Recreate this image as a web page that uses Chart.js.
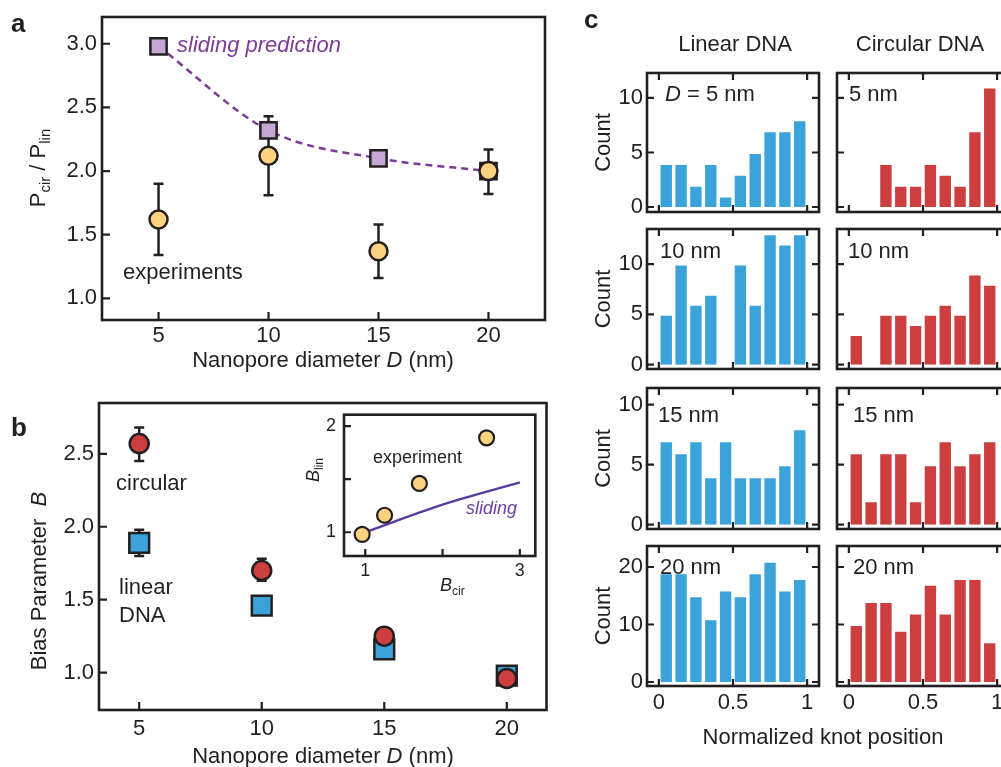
<!DOCTYPE html>
<html><head><meta charset="utf-8">
<script src="https://cdn.jsdelivr.net/npm/chart.js@4.4.1/dist/chart.umd.min.js"></script>
<style>
html,body{margin:0;padding:0;background:#fff;overflow:hidden;width:1001px;height:767px;position:relative;}
.box{position:absolute;}
canvas{display:block;}
</style></head><body>
<script>
// ---------------- data ----------------
const diameters = [5, 10, 15, 20];
// panel a
const slidingRatio = [2.98, 2.32, 2.10, 2.00];
const expRatio = [1.62, 2.12, 1.37, 2.00];
const expRatioLow = [1.34, 1.81, 1.16, 1.82];
const expRatioHigh = [1.90, 2.43, 1.58, 2.17];
// panel b
const biasCircular = [2.57, 1.70, 1.25, 0.96];
const biasCircularLow = [2.45, 1.63, null, null];
const biasCircularHigh = [2.68, 1.78, null, null];
const biasLinear = [1.89, 1.46, 1.16, 0.98];
const biasLinearLow = [1.80, null, null, null];
const biasLinearHigh = [1.98, null, null, null];
// inset
const slidingBcir = [1, 2, 3];
const slidingBlin = [1.00, 1.26, 1.47];
// panel c
const knotBins = [0.05, 0.15, 0.25, 0.35, 0.45, 0.55, 0.65, 0.75, 0.85, 0.95];
const linear5 = [4, 4, 2, 4, 1, 3, 5, 7, 7, 8];
const circular5 = [0, 0, 4, 2, 2, 4, 3, 2, 7, 11];
const linear10 = [5, 10, 6, 7, 0, 10, 6, 13, 12, 13];
const circular10 = [3, 0, 5, 5, 4, 5, 6, 5, 9, 8];
const linear15 = [7, 6, 7, 4, 7, 4, 4, 4, 5, 8];
const circular15 = [6, 2, 6, 6, 2, 5, 7, 5, 6, 7];
const linear20 = [19, 19, 15, 11, 16, 15, 19, 21, 16, 18];
const circular20 = [10, 14, 14, 9, 12, 17, 12, 18, 18, 7];
const rowLabels = ['5 nm', '10 nm', '15 nm', '20 nm'];

// ---------------- style ----------------
const FONT = '"Liberation Sans", Arial, Helvetica, sans-serif';
const DARK = '#231f20';
const YELLOW = '#fed27f';
const LAV = '#c4a6d5';
const PURPLE = '#7c3b97';
const INSET_PURPLE = '#5b3c9e';
const RED = '#cc3f3e';
const BLUE = '#3aa3da';
Chart.defaults.font.family = FONT;
Chart.defaults.color = DARK;
Chart.defaults.animation = false;

function fontOf(p){ return (p.italic?'italic ':'') + (p.bold?'bold ':'') + (p.size||22) + 'px ' + FONT; }
function richText(ctx, n){
  ctx.save();
  ctx.translate(n.x, n.y);
  if (n.rotate) ctx.rotate(n.rotate);
  ctx.textBaseline = 'alphabetic';
  ctx.textAlign = 'left';
  let w = 0; const ws = [];
  for (const p of n.parts){ ctx.font = fontOf(p); const m = ctx.measureText(p.t).width; ws.push(m); w += m; }
  let cx = n.align === 'center' ? -w/2 : 0;
  n.parts.forEach((p,i)=>{ ctx.font = fontOf(p); ctx.fillStyle = p.color || n.color || DARK; ctx.fillText(p.t, cx, p.dy||0); cx += ws[i]; });
  ctx.restore();
}
const pts = (xs, ys) => xs.map((x,i)=>({x, y: ys[i]}));

function axis(min, max, step, o){
  o = o || {};
  return {
    type:'linear', min, max, offset:false,
    grid:{display:false, drawTicks:false, offset:false}, border:{display:false},
    ticks:{stepSize:step, includeBounds:false, autoSkip:false, maxRotation:0, minRotation:0,
      font:{size:o.size||22}, color:DARK, padding:o.pad==null?4:o.pad,
      callback: o.cb || (v => String(v))}
  };
}

function mkChart(area, m, cfg, deco){
  const left = area.l - m.l, top = area.t - m.t;
  const W = area.r - area.l + m.l + m.r, H = area.b - area.t + m.t + m.b;
  const div = document.createElement('div');
  div.className = 'box';
  div.style.left = left + 'px'; div.style.top = top + 'px';
  div.style.width = W + 'px'; div.style.height = H + 'px';
  const cv = document.createElement('canvas');
  cv.width = W; cv.height = H; cv.style.width = W + 'px'; cv.style.height = H + 'px';
  div.appendChild(cv); document.body.appendChild(div);
  const o = cfg.options = cfg.options || {};
  o.responsive = false; o.maintainAspectRatio = false; o.animation = false; o.events = [];
  o.layout = {padding:{left:0, top:m.t, right:m.r, bottom:0}};
  o.plugins = Object.assign({legend:{display:false}, tooltip:{enabled:false}, title:{display:false}}, o.plugins||{});
  o.scales.x.afterFit = s => { s.height = m.b; s.paddingLeft = 0; s.paddingRight = 0; s.paddingTop = 0; s.paddingBottom = 0; };
  o.scales.y.afterFit = s => { s.width = m.l; s.paddingLeft = 0; s.paddingRight = 0; s.paddingTop = 0; s.paddingBottom = 0; };
  cfg.plugins = [{
    id:'deco',
    beforeDatasetsDraw(chart){
      const ctx = chart.ctx, xs = chart.scales.x, ys = chart.scales.y;
      (deco.err||[]).forEach(e=>{
        ctx.save(); ctx.strokeStyle = DARK; ctx.lineWidth = 2.5; ctx.lineCap = 'butt';
        e.x.forEach((xv,i)=>{
          if (e.lo[i]==null) return;
          const px = xs.getPixelForValue(xv), y1 = ys.getPixelForValue(e.lo[i]), y2 = ys.getPixelForValue(e.hi[i]);
          ctx.beginPath(); ctx.moveTo(px, y1); ctx.lineTo(px, y2);
          ctx.moveTo(px-5, y1); ctx.lineTo(px+5, y1);
          ctx.moveTo(px-5, y2); ctx.lineTo(px+5, y2); ctx.stroke();
        });
        ctx.restore();
      });
    },
    afterDraw(chart){
      const ctx = chart.ctx, a = chart.chartArea, xs = chart.scales.x, ys = chart.scales.y;
      const len = deco.tickLen || 7;
      ctx.save();
      ctx.strokeStyle = DARK; ctx.lineWidth = deco.tickW || 2.2;
      ctx.beginPath();
      (deco.xt||[]).forEach(side=>{
        xs.ticks.forEach(t=>{
          const px = xs.getPixelForValue(t.value);
          if (side==='bottom'){ ctx.moveTo(px, a.bottom); ctx.lineTo(px, a.bottom-len); }
          else { ctx.moveTo(px, a.top); ctx.lineTo(px, a.top+len); }
        });
      });
      (deco.yt||[]).forEach(side=>{
        ys.ticks.forEach(t=>{
          const py = ys.getPixelForValue(t.value);
          if (side==='left'){ ctx.moveTo(a.left, py); ctx.lineTo(a.left+len, py); }
          else { ctx.moveTo(a.right, py); ctx.lineTo(a.right-len, py); }
        });
      });
      ctx.stroke();
      ctx.lineWidth = deco.frameW || 2.6;
      ctx.strokeRect(a.left, a.top, a.right-a.left, a.bottom-a.top);
      ctx.restore();
      (deco.notes||[]).forEach(n=>{
        richText(ctx, Object.assign({}, n, {x: n.x - left, y: n.y - top}));
      });
    }
  }];
  return new Chart(cv.getContext('2d'), cfg);
}

// ---------------- panel a ----------------
mkChart({l:102, t:17, r:545, b:320}, {l:102, t:17, r:18, b:65}, {
  type:'scatter',
  data:{datasets:[
    {data: pts(diameters, expRatio), pointRadius:9, pointBackgroundColor:YELLOW, pointBorderColor:DARK, pointBorderWidth:2.5, order:0},
    {data: pts(diameters, slidingRatio), pointStyle:'rect', pointRadius:11.5, pointBackgroundColor:[LAV, LAV, LAV, DARK], pointBorderColor:DARK, pointBorderWidth:2.5, order:1},
    {data: pts(diameters, slidingRatio), showLine:true, pointRadius:0, borderColor:PURPLE, borderWidth:2.5, borderDash:[7,5], cubicInterpolationMode:'monotone', order:2}
  ]},
  options:{scales:{
    x: axis(2.43, 22.57, 5, {pad:3}),
    y: axis(0.83, 3.21, 0.5, {pad:5, cb: v => v.toFixed(1)})
  }}
}, {
  err:[{x: diameters, lo: expRatioLow, hi: expRatioHigh}],
  xt:['bottom'], yt:['left'], tickLen:8,
  notes:[
    {parts:[{t:'a', bold:true, size:26}], x:11, y:32},
    {parts:[{t:'sliding prediction', italic:true, color:PURPLE}], x:177, y:52},
    {parts:[{t:'experiments'}], x:123, y:279},
    {parts:[{t:'Nanopore diameter '},{t:'D', italic:true},{t:' (nm)'}], x:323, y:367, align:'center'},
    {parts:[{t:'P'},{t:'cir', size:15, dy:5},{t:' / P'},{t:'lin', size:15, dy:5}], x:45, y:168, align:'center', rotate:-Math.PI/2}
  ]
});

// ---------------- panel b ----------------
mkChart({l:99, t:403, r:547, b:710}, {l:99, t:18, r:16, b:57}, {
  type:'scatter',
  data:{datasets:[
    {data: pts(diameters, biasCircular), pointRadius:9.5, pointBackgroundColor:RED, pointBorderColor:DARK, pointBorderWidth:2.5, order:0},
    {data: pts(diameters, biasLinear), pointStyle:'rect', pointRadius:14, pointBackgroundColor:BLUE, pointBorderColor:DARK, pointBorderWidth:2.5, order:1}
  ]},
  options:{scales:{
    x: axis(3.36, 21.62, 5, {pad:6}),
    y: axis(0.744, 2.848, 0.5, {pad:5, cb: v => v.toFixed(1)})
  }}
}, {
  err:[{x: diameters, lo: biasCircularLow, hi: biasCircularHigh}, {x: diameters, lo: biasLinearLow, hi: biasLinearHigh}],
  xt:['bottom'], yt:['left'], tickLen:8,
  notes:[
    {parts:[{t:'b', bold:true, size:26}], x:11, y:436},
    {parts:[{t:'circular'}], x:116, y:490},
    {parts:[{t:'linear'}], x:119, y:594},
    {parts:[{t:'DNA'}], x:119, y:622},
    {parts:[{t:'Nanopore diameter '},{t:'D', italic:true},{t:' (nm)'}], x:323, y:763, align:'center'},
    {parts:[{t:'Bias Parameter  '},{t:'B', italic:true}], x:46, y:581, align:'center', rotate:-Math.PI/2}
  ]
});

// ---------------- inset ----------------
mkChart({l:344, t:413, r:537, b:556}, {l:54, t:8, r:8, b:45}, {
  type:'scatter',
  data:{datasets:[
    {data: pts(biasCircular, biasLinear), pointRadius:7.5, pointBackgroundColor:YELLOW, pointBorderColor:DARK, pointBorderWidth:2.2, order:0},
    {data: pts(slidingBcir, slidingBlin), showLine:true, pointRadius:0, borderColor:INSET_PURPLE, borderWidth:2.5, cubicInterpolationMode:'monotone', order:1}
  ]},
  options:{scales:{
    x: axis(0.725, 3.2, 1, {size:18, pad:4, cb: v => (v===2 ? '' : String(v))}),
    y: axis(0.776, 2.108, 0.5, {size:18, pad:8, cb: v => (v===1.5 ? '' : String(v))})
  }}
}, {
  xt:['bottom'], yt:['left'], tickLen:7,
  notes:[
    {parts:[{t:'experiment', size:18}], x:373, y:463},
    {parts:[{t:'sliding', size:18, italic:true, color:'#6a40a6'}], x:466, y:514},
    {parts:[{t:'B', size:18, italic:true},{t:'lin', size:12, dy:4}], x:319, y:470, align:'center', rotate:-Math.PI/2},
    {parts:[{t:'B', size:18, italic:true},{t:'cir', size:12, dy:4}], x:440, y:591}
  ]
});

// ---------------- panel c ----------------
const rows = [
  {t:73, b:212, min:-0.46, max:12.29, step:5, lin:linear5, cir:circular5},
  {t:229, b:369, min:-0.43, max:13.48, step:5, lin:linear10, cir:circular10},
  {t:388, b:529, min:-0.36, max:11.39, step:5, lin:linear15, cir:circular15},
  {t:546, b:686, min:-0.70, max:23.65, step:10, lin:linear20, cir:circular20}
];
const labelBase = [101, 258, 421.5, 574];
const labelXLin = [665, 660, 658, 660];
const labelXCir = [849, 848, 853, 853];

function histCfg(vals, color, showY, showX){
  return {
    type:'bar',
    data:{datasets:[{
      data: pts(knotBins, vals), backgroundColor: color,
      borderColor:'rgba(255,255,255,0.55)', borderWidth:1.5, borderSkipped:'start',
      barPercentage:0.97, categoryPercentage:1
    }]},
    options:{scales:{
      x: axis(-0.08, 1.08, 0.5, {pad:4, cb: v => showX ? String(v) : ''}),
      y: null
    }}
  };
}

rows.forEach((r, i)=>{
  const last = i === rows.length - 1;
  const first = i === 0;
  // linear
  const cl = histCfg(r.lin, BLUE, true, last);
  cl.options.scales.y = axis(r.min, r.max, r.step, {pad:4, cb: v => String(v)});
  const notesL = [
    {parts: i===0 ? [{t:'D', italic:true},{t:' = 5 nm'}] : [{t:rowLabels[i]}], x:labelXLin[i], y:labelBase[i]},
    {parts:[{t:'Count'}], x:610, y:(r.t+r.b)/2, align:'center', rotate:-Math.PI/2}
  ];
  if (first){
    notesL.push({parts:[{t:'c', bold:true, size:26}], x:584, y:28});
    notesL.push({parts:[{t:'Linear DNA'}], x:735, y:51, align:'center'});
  }
  if (last){
    notesL.push({parts:[{t:'Normalized knot position'}], x:823, y:744, align:'center'});
  }
  mkChart({l:647, t:r.t, r:819, b:r.b},
    {l:72, t: first ? r.t : 8, r: last ? 150 : 8, b: last ? 767 - r.b : 8},
    cl, {xt:['bottom','top'], yt:['left','right'], tickLen:7, notes:notesL});
  // circular
  const cc = histCfg(r.cir, RED, false, last);
  cc.options.scales.y = axis(r.min, r.max, r.step, {pad:4, cb: () => ''});
  const notesC = [{parts:[{t:rowLabels[i]}], x:labelXCir[i], y:labelBase[i]}];
  if (first) notesC.push({parts:[{t:'Circular DNA'}], x:920, y:51, align:'center'});
  mkChart({l:837, t:r.t, r:1009, b:r.b},
    {l:8, t: first ? r.t : 8, r:6, b: last ? 60 : 8},
    cc, {xt:['bottom','top'], yt:['left','right'], tickLen:7, notes:notesC});
});
</script>
</body></html>
